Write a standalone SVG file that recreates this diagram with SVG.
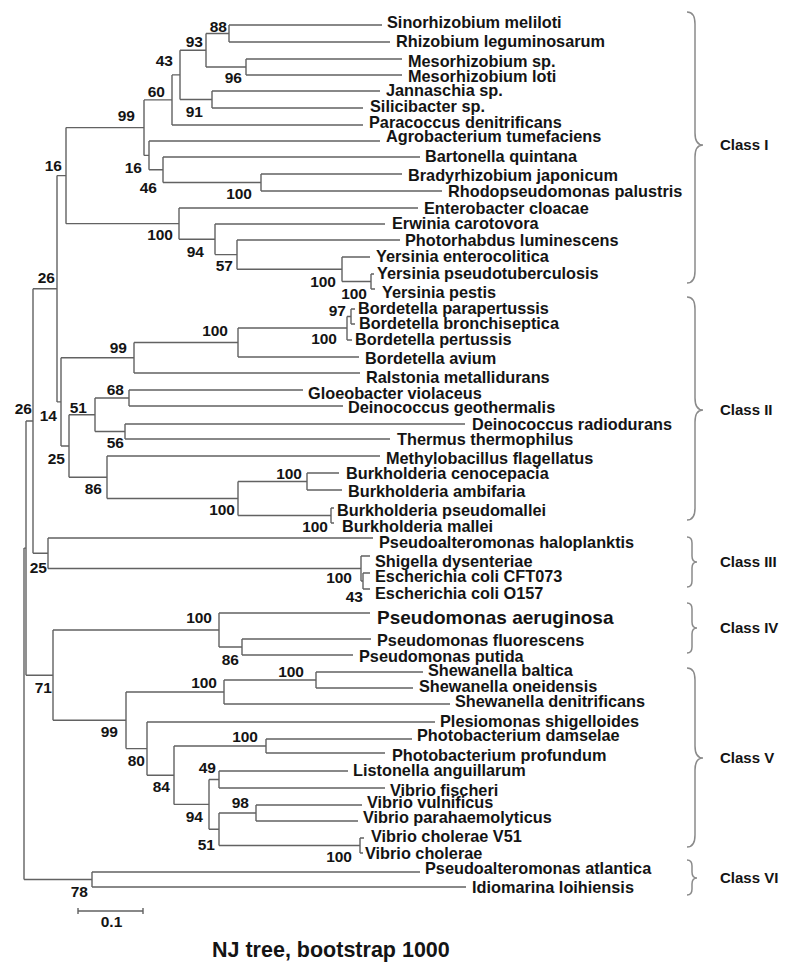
<svg xmlns="http://www.w3.org/2000/svg" width="800" height="974" viewBox="0 0 800 974">
<style>
.br{fill:none;stroke:#626262;stroke-width:1.4}
.bc{fill:none;stroke:#8a8a8a;stroke-width:1.5}
.lf{font-family:"Liberation Sans",Arial,sans-serif;font-weight:bold;font-size:16.3px;fill:#141414}
.bs{font-family:"Liberation Sans",Arial,sans-serif;font-weight:bold;font-size:15.5px;fill:#141414;text-anchor:end}
.cl{font-family:"Liberation Sans",Arial,sans-serif;font-weight:bold;font-size:15px;fill:#141414}
</style>
<rect width="800" height="974" fill="#fff"/>
<g id="connectors" class="br">
<path d="M229,25 V42 M229,25 H382 M229,42 H390"/>
<path d="M246,59 V75 M246,59 H402 M246,75 H402"/>
<path d="M206,33.5 V67 M206,33.5 H229 M206,67 H246"/>
<path d="M212,91 V108 M212,91 H380 M212,108 H363"/>
<path d="M180,50.25 V99.5 M180,50.25 H206 M180,99.5 H212"/>
<path d="M172,74.9 V125 M172,74.9 H180 M172,125 H363"/>
<path d="M261,174 V191 M261,174 H402 M261,191 H442"/>
<path d="M163,157 V182.5 M163,157 H420 M163,182.5 H261"/>
<path d="M149,141 V169.75 M149,141 H380 M149,169.75 H163"/>
<path d="M144,99.9 V155.4 M144,99.9 H172 M144,155.4 H149"/>
<path d="M371,274 V289 M371,274 H374 M371,289 H375"/>
<path d="M342,257 V281.5 M342,257 H370 M342,281.5 H371"/>
<path d="M237,240 V269.25 M237,240 H400 M237,269.25 H342"/>
<path d="M215,224 V254.6 M215,224 H385 M215,254.6 H237"/>
<path d="M179,208 V239.3 M179,208 H418 M179,239.3 H215"/>
<path d="M66,127.6 V223.65 M66,127.6 H144 M66,223.65 H179"/>
<path d="M351,309 V324 M351,309 H355 M351,324 H355"/>
<path d="M347,316.5 V340 M347,316.5 H351 M347,340 H352"/>
<path d="M238,328 V357 M238,328 H347 M238,357 H359"/>
<path d="M134,342.5 V373 M134,342.5 H238 M134,373 H360"/>
<path d="M129,390 V406 M129,390 H303 M129,406 H343"/>
<path d="M125,424 V439 M125,424 H465 M125,439 H390"/>
<path d="M95,398 V431.5 M95,398 H129 M95,431.5 H125"/>
<path d="M307,473 V490 M307,473 H339 M307,490 H342"/>
<path d="M331,508 V523 M331,508 H334 M331,523 H334"/>
<path d="M238,481.5 V515.5 M238,481.5 H307 M238,515.5 H331"/>
<path d="M107,456 V498.5 M107,456 H380 M107,498.5 H238"/>
<path d="M69,414.75 V477.25 M69,414.75 H95 M69,477.25 H107"/>
<path d="M61,357.75 V446 M61,357.75 H134 M61,446 H69"/>
<path d="M57,175.6 V401.9 M57,175.6 H66 M57,401.9 H61"/>
<path d="M363,573 V589 M363,573 H370 M363,589 H370"/>
<path d="M361,556 V581 M361,556 H370 M361,581 H363"/>
<path d="M48,538 V568.5 M48,538 H373 M48,568.5 H361"/>
<path d="M33,288.7 V553.25 M33,288.7 H57 M33,553.25 H48"/>
<path d="M242,639 V655 M242,639 H371 M242,655 H353"/>
<path d="M219,613 V647 M219,613 H370 M219,647 H242"/>
<path d="M316,672 V688 M316,672 H423 M316,688 H413"/>
<path d="M224,680 V704 M224,680 H316 M224,704 H450"/>
<path d="M266,739 V753 M266,739 H412 M266,753 H385"/>
<path d="M219,771 V788 M219,771 H348 M219,788 H385"/>
<path d="M256,805 V821 M256,805 H362 M256,821 H358"/>
<path d="M360,838 V853 M360,838 H364 M360,853 H363"/>
<path d="M219,813 V845.5 M219,813 H256 M219,845.5 H360"/>
<path d="M209,779.5 V829.25 M209,779.5 H219 M209,829.25 H219"/>
<path d="M174,746 V804.4 M174,746 H266 M174,804.4 H209"/>
<path d="M147,722 V775.2 M147,722 H435 M147,775.2 H174"/>
<path d="M126,692 V748.6 M126,692 H224 M126,748.6 H147"/>
<path d="M53,630 V720.3 M53,630 H219 M53,720.3 H126"/>
<path d="M26,421 V675.2 M26,421 H33 M26,675.2 H53"/>
<path d="M92,872 V887 M92,872 H420 M92,887 H466"/>
<path d="M24,548.1 V879.5 M24,548.1 H26 M24,879.5 H92"/>
</g>
<g id="leaves">
<g id="leaf-sinorhizobium-meliloti"><text class="lf" x="387" y="28">Sinorhizobium meliloti</text></g>
<g id="leaf-rhizobium-leguminosarum"><text class="lf" x="396" y="47">Rhizobium leguminosarum</text></g>
<g id="leaf-mesorhizobium-sp"><text class="lf" x="408" y="66.5">Mesorhizobium sp.</text></g>
<g id="leaf-mesorhizobium-loti"><text class="lf" x="408" y="81.5">Mesorhizobium loti</text></g>
<g id="leaf-jannaschia"><text class="lf" x="386" y="96">Jannaschia sp.</text></g>
<g id="leaf-silicibacter"><text class="lf" x="370" y="112">Silicibacter sp.</text></g>
<g id="leaf-paracoccus"><text class="lf" x="369" y="128">Paracoccus denitrificans</text></g>
<g id="leaf-agrobacterium"><text class="lf" x="386" y="142">Agrobacterium tumefaciens</text></g>
<g id="leaf-bartonella"><text class="lf" x="425" y="162">Bartonella quintana</text></g>
<g id="leaf-bradyrhizobium"><text class="lf" x="408" y="180.5">Bradyrhizobium japonicum</text></g>
<g id="leaf-rhodopseudomonas"><text class="lf" x="448" y="197">Rhodopseudomonas palustris</text></g>
<g id="leaf-enterobacter"><text class="lf" x="424" y="214">Enterobacter cloacae</text></g>
<g id="leaf-erwinia"><text class="lf" x="392" y="229">Erwinia carotovora</text></g>
<g id="leaf-photorhabdus"><text class="lf" x="405" y="246">Photorhabdus luminescens</text></g>
<g id="leaf-yersinia-enterocolitica"><text class="lf" x="376" y="262">Yersinia enterocolitica</text></g>
<g id="leaf-yersinia-pseudotuberculosis"><text class="lf" x="377" y="279">Yersinia pseudotuberculosis</text></g>
<g id="leaf-yersinia-pestis"><text class="lf" x="382" y="298">Yersinia pestis</text></g>
<g id="leaf-bordetella-parapertussis"><text class="lf" x="358" y="314">Bordetella parapertussis</text></g>
<g id="leaf-bordetella-bronchiseptica"><text class="lf" x="359" y="329">Bordetella bronchiseptica</text></g>
<g id="leaf-bordetella-pertussis"><text class="lf" x="355" y="345">Bordetella pertussis</text></g>
<g id="leaf-bordetella-avium"><text class="lf" x="365" y="364">Bordetella avium</text></g>
<g id="leaf-ralstonia"><text class="lf" x="366" y="383">Ralstonia metallidurans</text></g>
<g id="leaf-gloeobacter"><text class="lf" x="308" y="399">Gloeobacter violaceus</text></g>
<g id="leaf-deinococcus-geothermalis"><text class="lf" x="348" y="413">Deinococcus geothermalis</text></g>
<g id="leaf-deinococcus-radiodurans"><text class="lf" x="472" y="429.5">Deinococcus radiodurans</text></g>
<g id="leaf-thermus"><text class="lf" x="397" y="445">Thermus thermophilus</text></g>
<g id="leaf-methylobacillus"><text class="lf" x="386" y="464">Methylobacillus flagellatus</text></g>
<g id="leaf-burkholderia-cenocepacia"><text class="lf" x="346" y="479">Burkholderia cenocepacia</text></g>
<g id="leaf-burkholderia-ambifaria"><text class="lf" x="348" y="497">Burkholderia ambifaria</text></g>
<g id="leaf-burkholderia-pseudomallei"><text class="lf" x="337" y="515.5">Burkholderia pseudomallei</text></g>
<g id="leaf-burkholderia-mallei"><text class="lf" x="342" y="532">Burkholderia mallei</text></g>
<g id="leaf-pseudoalteromonas-haloplanktis"><text class="lf" x="379" y="548">Pseudoalteromonas haloplanktis</text></g>
<g id="leaf-shigella"><text class="lf" x="375" y="566.5">Shigella dysenteriae</text></g>
<g id="leaf-ecoli-cft073"><text class="lf" x="375" y="581.5">Escherichia coli CFT073</text></g>
<g id="leaf-ecoli-o157"><text class="lf" x="375" y="599">Escherichia coli O157</text></g>
<g id="leaf-pseudomonas-aeruginosa"><text class="lf" x="377" y="624" style="font-size:19px">Pseudomonas aeruginosa</text></g>
<g id="leaf-pseudomonas-fluorescens"><text class="lf" x="377" y="645.5">Pseudomonas fluorescens</text></g>
<g id="leaf-pseudomonas-putida"><text class="lf" x="359" y="661.5">Pseudomonas putida</text></g>
<g id="leaf-shewanella-baltica"><text class="lf" x="428" y="675.5">Shewanella baltica</text></g>
<g id="leaf-shewanella-oneidensis"><text class="lf" x="419" y="692">Shewanella oneidensis</text></g>
<g id="leaf-shewanella-denitrificans"><text class="lf" x="455" y="707">Shewanella denitrificans</text></g>
<g id="leaf-plesiomonas"><text class="lf" x="440" y="726.5">Plesiomonas shigelloides</text></g>
<g id="leaf-photobacterium-damselae"><text class="lf" x="417" y="741">Photobacterium damselae</text></g>
<g id="leaf-photobacterium-profundum"><text class="lf" x="392" y="760.5">Photobacterium profundum</text></g>
<g id="leaf-listonella"><text class="lf" x="353" y="776">Listonella anguillarum</text></g>
<g id="leaf-vibrio-fischeri"><text class="lf" x="390" y="795.5">Vibrio fischeri</text></g>
<g id="leaf-vibrio-vulnificus"><text class="lf" x="367" y="808">Vibrio vulnificus</text></g>
<g id="leaf-vibrio-parahaemolyticus"><text class="lf" x="363" y="823">Vibrio parahaemolyticus</text></g>
<g id="leaf-vibrio-cholerae-v51"><text class="lf" x="371" y="841.5">Vibrio cholerae V51</text></g>
<g id="leaf-vibrio-cholerae"><text class="lf" x="365" y="859">Vibrio cholerae</text></g>
<g id="leaf-pseudoalteromonas-atlantica"><text class="lf" x="425" y="874">Pseudoalteromonas atlantica</text></g>
<g id="leaf-idiomarina"><text class="lf" x="472" y="893">Idiomarina loihiensis</text></g>
</g>
<g id="bootstrap">
<g id="bs-88"><text class="bs" x="227" y="31.5">88</text></g>
<g id="bs-93"><text class="bs" x="203" y="46.7">93</text></g>
<g id="bs-43a"><text class="bs" x="173" y="66">43</text></g>
<g id="bs-96"><text class="bs" x="242" y="83">96</text></g>
<g id="bs-60"><text class="bs" x="165" y="97">60</text></g>
<g id="bs-91"><text class="bs" x="203" y="116.7">91</text></g>
<g id="bs-99a"><text class="bs" x="135" y="120.7">99</text></g>
<g id="bs-16a"><text class="bs" x="62" y="170.7">16</text></g>
<g id="bs-16b"><text class="bs" x="142" y="172.7">16</text></g>
<g id="bs-46"><text class="bs" x="157" y="193.3">46</text></g>
<g id="bs-100a"><text class="bs" x="252" y="199">100</text></g>
<g id="bs-100b"><text class="bs" x="173" y="240">100</text></g>
<g id="bs-94a"><text class="bs" x="204" y="256.7">94</text></g>
<g id="bs-57"><text class="bs" x="233" y="271">57</text></g>
<g id="bs-26a"><text class="bs" x="55" y="282.7">26</text></g>
<g id="bs-100c"><text class="bs" x="336" y="287.3">100</text></g>
<g id="bs-100d"><text class="bs" x="367" y="299">100</text></g>
<g id="bs-97"><text class="bs" x="346" y="316">97</text></g>
<g id="bs-100e"><text class="bs" x="228" y="336">100</text></g>
<g id="bs-100f"><text class="bs" x="337" y="344.3">100</text></g>
<g id="bs-99b"><text class="bs" x="127" y="352.7">99</text></g>
<g id="bs-68"><text class="bs" x="124" y="395">68</text></g>
<g id="bs-51a"><text class="bs" x="87" y="413.3">51</text></g>
<g id="bs-26b"><text class="bs" x="32" y="414">26</text></g>
<g id="bs-14"><text class="bs" x="57" y="420.7">14</text></g>
<g id="bs-56"><text class="bs" x="124" y="448.3">56</text></g>
<g id="bs-25a"><text class="bs" x="65" y="464.3">25</text></g>
<g id="bs-100g"><text class="bs" x="302" y="479">100</text></g>
<g id="bs-86a"><text class="bs" x="102" y="494">86</text></g>
<g id="bs-100h"><text class="bs" x="235" y="515">100</text></g>
<g id="bs-100i"><text class="bs" x="328" y="531.7">100</text></g>
<g id="bs-25b"><text class="bs" x="47" y="572.7">25</text></g>
<g id="bs-100j"><text class="bs" x="352" y="583.3">100</text></g>
<g id="bs-43b"><text class="bs" x="363" y="601.7">43</text></g>
<g id="bs-100k"><text class="bs" x="212" y="622.7">100</text></g>
<g id="bs-86b"><text class="bs" x="239" y="665">86</text></g>
<g id="bs-100l"><text class="bs" x="304" y="676.7">100</text></g>
<g id="bs-100m"><text class="bs" x="217" y="688.3">100</text></g>
<g id="bs-71"><text class="bs" x="52" y="692.7">71</text></g>
<g id="bs-99c"><text class="bs" x="118" y="736.7">99</text></g>
<g id="bs-100n"><text class="bs" x="258" y="741.7">100</text></g>
<g id="bs-80"><text class="bs" x="145" y="766">80</text></g>
<g id="bs-49"><text class="bs" x="216" y="773.3">49</text></g>
<g id="bs-84"><text class="bs" x="170" y="792.3">84</text></g>
<g id="bs-98"><text class="bs" x="249" y="808.3">98</text></g>
<g id="bs-94b"><text class="bs" x="203" y="822.3">94</text></g>
<g id="bs-51b"><text class="bs" x="215" y="850">51</text></g>
<g id="bs-100o"><text class="bs" x="352" y="861.7">100</text></g>
<g id="bs-78"><text class="bs" x="88" y="896.7">78</text></g>
</g>
<g id="class-I"><path class="bc" d="M687,12 Q695,12 695,24 L695,133 Q695,145 703,145 Q695,145 695,157 L695,271 Q695,283 687,283"/><text class="cl" x="720" y="150">Class I</text></g>
<g id="class-II"><path class="bc" d="M687,297 Q695,297 695,309 L695,398 Q695,410 703,410 Q695,410 695,422 L695,508 Q695,520 687,520"/><text class="cl" x="720" y="415">Class II</text></g>
<g id="class-III"><path class="bc" d="M687,537 Q692,537 692,543 L692,556 Q692,562 697,562 Q692,562 692,568 L692,581 Q692,587 687,587"/><text class="cl" x="720" y="567">Class III</text></g>
<g id="class-IV"><path class="bc" d="M687,603 Q692,603 692,609 L692,622 Q692,628 697,628 Q692,628 692,634 L692,647 Q692,653 687,653"/><text class="cl" x="720" y="633">Class IV</text></g>
<g id="class-V"><path class="bc" d="M687,668 Q695,668 695,680 L695,746 Q695,758 703,758 Q695,758 695,770 L695,835 Q695,847 687,847"/><text class="cl" x="720" y="763">Class V</text></g>
<g id="class-VI"><path class="bc" d="M687,860 Q692,860 692,866 L692,872 Q692,878 697,878 Q692,878 692,884 L692,889 Q692,895 687,895"/><text class="cl" x="720" y="883">Class VI</text></g>
<g id="scale-bar"><path class="br" d="M78,908 V914 M78,911 H143 M143,908 V914"/><text class="bs" x="111.5" y="927" style="text-anchor:middle">0.1</text></g>
<g id="title"><text x="212" y="957" style="font-family:'Liberation Sans',Arial,sans-serif;font-weight:bold;font-size:21.5px;fill:#141414">NJ tree, bootstrap 1000</text></g>
</svg>
